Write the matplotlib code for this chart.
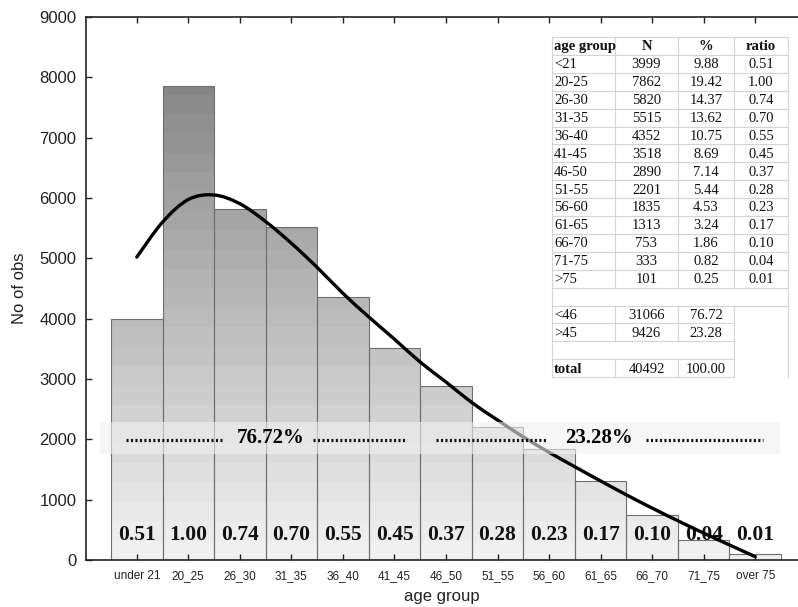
import numpy as np
import matplotlib
matplotlib.use('Agg')
import matplotlib.pyplot as plt
from matplotlib.path import Path
from matplotlib.lines import Line2D
from matplotlib.patches import Rectangle, PathPatch

plt.rcParams['font.family'] = ['Liberation Sans', 'DejaVu Sans']

# 연령대별 관측 수
age_ticks = ['under 21', '20_25', '26_30', '31_35', '36_40', '41_45', '46_50',
             '51_55', '56_60', '61_65', '66_70', '71_75', 'over 75']
age_rows = ['<21', '20-25', '26-30', '31-35', '36-40', '41-45', '46-50',
            '51-55', '56-60', '61-65', '66-70', '71-75', '>75']
counts = [3999, 7862, 5820, 5515, 4352, 3518, 2890, 2201, 1835, 1313, 753, 333, 101]
pcts = ['9.88', '19.42', '14.37', '13.62', '10.75', '8.69', '7.14', '5.44',
        '4.53', '3.24', '1.86', '0.82', '0.25']
ratios = ['0.51', '1.00', '0.74', '0.70', '0.55', '0.45', '0.37', '0.28',
          '0.23', '0.17', '0.10', '0.04', '0.01']
group_rows = [('<46', '31066', '76.72'), ('>45', '9426', '23.28')]
total_row = ('total', '40492', '100.00')
share_young = '76.72%'
share_old = '23.28%'

# 적합 곡선 (막대 인덱스 기준, 반 칸 간격)
curve_x = [0.0, 0.5, 1.0, 1.5, 2.0, 2.5, 3.0, 3.5, 4.0, 4.5, 5.0, 5.5, 6.0,
           6.5, 7.0, 7.5, 8.0, 8.5, 9.0, 9.5, 10.0, 10.5, 11.0, 11.5, 12.0]
curve_y = [5020, 5600, 5975, 6050, 5905, 5610, 5250, 4850, 4420, 4030, 3660,
           3280, 2950, 2610, 2320, 2040, 1785, 1545, 1310, 1080, 860, 650,
           445, 250, 55]

W, H = 798, 607
fig = plt.figure(figsize=(W / 100, H / 100), dpi=100)
ax = fig.add_axes([86 / W, (H - 560) / H, (W - 86) / W, (560 - 17) / H])

x = np.arange(len(counts))
XLIM = (-0.985, 12.83)

# 막대: 세로 그라데이션 (높이가 클수록 어둡게)
bars = ax.bar(x, counts, width=1.0, facecolor='none', edgecolor='#6e6e6e',
              linewidth=0.8, zorder=2)
levels = np.arange(0, 9000, 333.3)[::-1]
shade = 240 - levels * 0.0132
grad = np.repeat(shade[:, None], 2, axis=1) / 255.0
img = ax.imshow(grad, cmap='gray', vmin=0, vmax=1, aspect='auto',
                extent=(XLIM[0], XLIM[1], 0, 9000), interpolation='nearest', zorder=1)
clip = Path.make_compound_path(*[b.get_path().transformed(b.get_patch_transform())
                                 for b in bars])
img.set_clip_path(clip, ax.transData)
ax.set_xlim(*XLIM)
ax.set_ylim(0, 9000)

# 비율 표시
for xi, r in zip(x, ratios):
    ax.text(xi, 330, r, ha='center', va='baseline', fontsize=15.5,
            fontweight='bold', family='Liberation Serif', color='#111111', zorder=2.5)

# 곡선: Catmull-Rom -> 3차 베지어
pts = np.column_stack([curve_x, curve_y]).astype(float)
verts = [pts[0]]
codes = [Path.MOVETO]
for i in range(len(pts) - 1):
    p0 = pts[max(i - 1, 0)]
    p1, p2 = pts[i], pts[i + 1]
    p3 = pts[min(i + 2, len(pts) - 1)]
    verts += [p1 + (p2 - p0) / 6, p2 - (p3 - p1) / 6, p2]
    codes += [Path.CURVE4] * 3
ax.add_patch(PathPatch(Path(verts, codes), facecolor='none', edgecolor='black',
                       linewidth=2.4, capstyle='round', zorder=3))

# 구간 비중 띠
ax.add_patch(Rectangle((-0.71, 1757), 13.19, 533, facecolor='#f0f0f0',
                       edgecolor='none', alpha=0.6, zorder=4))
dot_style = dict(color='#111111', linewidth=2.3, linestyle=(0, (0.65, 0.75)),
                 dash_capstyle='butt', zorder=5)
for x0, x1 in [(-0.2, 1.68), (3.41, 5.25), (5.81, 7.95), (9.89, 12.16)]:
    ax.plot([x0, x1], [1990, 1990], **dot_style)
ax.text(2.59, 1940, share_young, ha='center', va='baseline', fontsize=15,
        fontweight='bold', family='Liberation Serif', zorder=5)
ax.text(8.96, 1940, share_old, ha='center', va='baseline', fontsize=15,
        fontweight='bold', family='Liberation Serif', zorder=5)

# 축 설정
ax.spines['right'].set_visible(False)
for s in ['left', 'bottom', 'top']:
    ax.spines[s].set_linewidth(1.2)
    ax.spines[s].set_color('#222222')
ax.set_yticks(range(0, 9001, 1000))
ax.set_xticks(x)
ax.set_xticklabels(age_ticks)
ax.tick_params(axis='y', direction='in', length=4, width=1, labelsize=12, pad=7,
               colors='#222222')
ax.tick_params(axis='x', direction='in', length=4, width=1, labelsize=8.5, pad=7,
               top=True, colors='#222222')
ax.set_xlabel('age group', fontsize=12, labelpad=5, color='#222222')
ax.set_ylabel('No of obs', fontsize=12, labelpad=9, color='#222222')

# 요약 표
def fx(px):
    return px / W

def fy(py):
    return 1 - py / H

cols = [552, 615, 678, 734, 788]
top, rh = 37, 17.9
n_rows = 19
line_kw = dict(color='#d4d4d4', linewidth=0.8, transform=fig.transFigure, zorder=6)
fig.add_artist(Rectangle((fx(cols[0]), fy(top + rh * n_rows)),
                         fx(cols[-1]) - fx(cols[0]), fy(top) - fy(top + rh * n_rows),
                         transform=fig.transFigure, facecolor='white',
                         edgecolor='none', zorder=5))

for i in range(n_rows + 1):
    yy = fy(top + rh * i)
    right = cols[-1] if i <= 15 else cols[3]
    fig.add_artist(Line2D([fx(cols[0]), fx(right)], [yy, yy], **line_kw))
for j, cx in enumerate(cols):
    if j in (0, 4):
        segs = [(0, n_rows)]
    elif j == 3:
        segs = [(0, 14), (15, n_rows)]
    else:
        segs = [(0, 14), (15, 17), (18, n_rows)]
    for a, b in segs:
        fig.add_artist(Line2D([fx(cx), fx(cx)], [fy(top + rh * a), fy(top + rh * b)],
                              **line_kw))

centers = [None, (cols[1] + cols[2]) / 2, (cols[2] + cols[3]) / 2, (cols[3] + cols[4]) / 2]

def put_row(r, vals, bold=False):
    yy = fy(top + rh * r + rh - 4.5)
    for j, v in enumerate(vals):
        if j == 0:
            px, ha = cols[0] + 2, 'left'
        else:
            px, ha = centers[j], 'center'
        fig.text(fx(px), yy, v, ha=ha, va='baseline', fontsize=10.5,
                 family='Liberation Serif', fontweight='bold' if bold else 'normal',
                 color='#111111', zorder=7)

put_row(0, ['age group', 'N', '%', 'ratio'], bold=True)
for i in range(len(counts)):
    put_row(i + 1, [age_rows[i], str(counts[i]), pcts[i], ratios[i]])
for k, row in enumerate(group_rows):
    put_row(15 + k, list(row))
put_row(18, [total_row[0]], bold=True)
put_row(18, ['', total_row[1], total_row[2]])

fig.savefig('out.png', dpi=100)
